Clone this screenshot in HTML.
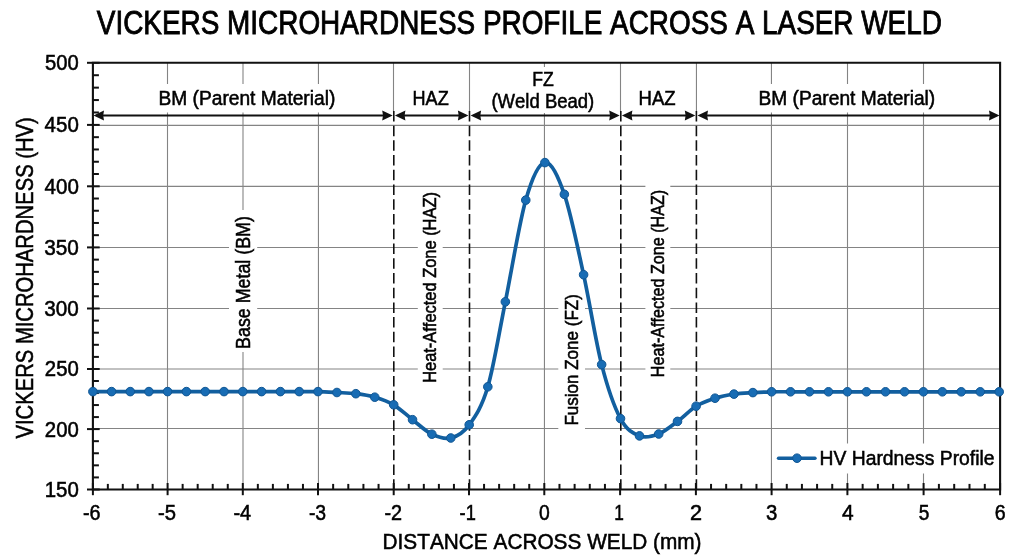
<!DOCTYPE html>
<html lang="en"><head><meta charset="utf-8"><title>Vickers Microhardness Profile Across a Laser Weld</title>
<style>html,body{margin:0;padding:0;background:#fff;}body{width:1024px;height:559px;overflow:hidden;}svg{display:block;}text{font-kerning:none;}</style>
</head><body>
<svg width="1024" height="559" viewBox="0 0 1024 559" font-family='"Liberation Sans", Arial, sans-serif' style="font-kerning:none">
<line x1="167.50" y1="62.80" x2="167.50" y2="489.50" stroke="#848484" stroke-width="1.1"/>
<line x1="243.00" y1="62.80" x2="243.00" y2="489.50" stroke="#848484" stroke-width="1.1"/>
<line x1="318.45" y1="62.80" x2="318.45" y2="489.50" stroke="#848484" stroke-width="1.1"/>
<line x1="393.50" y1="62.80" x2="393.50" y2="112.00" stroke="#848484" stroke-width="1.1"/>
<line x1="469.50" y1="62.80" x2="469.50" y2="112.00" stroke="#848484" stroke-width="1.1"/>
<line x1="544.45" y1="62.80" x2="544.45" y2="489.50" stroke="#848484" stroke-width="1.1"/>
<line x1="620.50" y1="62.80" x2="620.50" y2="112.00" stroke="#848484" stroke-width="1.1"/>
<line x1="696.45" y1="62.80" x2="696.45" y2="112.00" stroke="#848484" stroke-width="1.1"/>
<line x1="771.45" y1="62.80" x2="771.45" y2="489.50" stroke="#848484" stroke-width="1.1"/>
<line x1="847.50" y1="62.80" x2="847.50" y2="489.50" stroke="#848484" stroke-width="1.1"/>
<line x1="923.50" y1="62.80" x2="923.50" y2="489.50" stroke="#848484" stroke-width="1.1"/>
<line x1="92.90" y1="428.50" x2="1000.10" y2="428.50" stroke="#848484" stroke-width="1.1"/>
<line x1="92.90" y1="369.00" x2="1000.10" y2="369.00" stroke="#848484" stroke-width="1.1"/>
<line x1="92.90" y1="308.45" x2="1000.10" y2="308.45" stroke="#848484" stroke-width="1.1"/>
<line x1="92.90" y1="247.50" x2="1000.10" y2="247.50" stroke="#848484" stroke-width="1.1"/>
<line x1="92.90" y1="186.40" x2="1000.10" y2="186.40" stroke="#848484" stroke-width="1.1"/>
<line x1="92.90" y1="125.40" x2="1000.10" y2="125.40" stroke="#848484" stroke-width="1.1"/>
<rect x="155.00" y="84.00" width="184.00" height="28.50" fill="#fff"/>
<rect x="409.00" y="84.00" width="44.00" height="28.50" fill="#fff"/>
<rect x="488.00" y="67.00" width="110.00" height="46.00" fill="#fff"/>
<rect x="635.00" y="84.00" width="45.00" height="28.50" fill="#fff"/>
<rect x="755.00" y="84.00" width="184.00" height="28.50" fill="#fff"/>
<rect x="229.00" y="210.00" width="28.20" height="142.00" fill="#fff"/>
<rect x="417.80" y="187.00" width="24.90" height="200.00" fill="#fff"/>
<rect x="558.30" y="289.00" width="26.70" height="141.50" fill="#fff"/>
<rect x="645.40" y="185.00" width="24.90" height="196.50" fill="#fff"/>
<rect x="774.00" y="443.50" width="224.00" height="30.00" fill="#fff"/>
<line x1="393.80" y1="110.9" x2="393.80" y2="489.50" stroke="#111" stroke-width="1.6" stroke-dasharray="10.5 4.23"/>
<line x1="469.50" y1="110.9" x2="469.50" y2="489.50" stroke="#111" stroke-width="1.6" stroke-dasharray="10.5 4.23"/>
<line x1="620.80" y1="110.9" x2="620.80" y2="489.50" stroke="#111" stroke-width="1.6" stroke-dasharray="10.5 4.23"/>
<line x1="696.40" y1="110.9" x2="696.40" y2="489.50" stroke="#111" stroke-width="1.6" stroke-dasharray="10.5 4.23"/>
<line x1="96.50" y1="115.5" x2="389.70" y2="115.5" stroke="#111" stroke-width="1.9"/>
<path d="M93.50,115.5 L104.00,110.5 L103.20,115.5 L104.00,120.5 Z" fill="#111"/>
<path d="M392.70,115.5 L382.20,110.5 L383.00,115.5 L382.20,120.5 Z" fill="#111"/>
<line x1="397.90" y1="115.5" x2="465.40" y2="115.5" stroke="#111" stroke-width="1.9"/>
<path d="M394.90,115.5 L405.40,110.5 L404.60,115.5 L405.40,120.5 Z" fill="#111"/>
<path d="M468.40,115.5 L457.90,110.5 L458.70,115.5 L457.90,120.5 Z" fill="#111"/>
<line x1="473.60" y1="115.5" x2="616.70" y2="115.5" stroke="#111" stroke-width="1.9"/>
<path d="M470.60,115.5 L481.10,110.5 L480.30,115.5 L481.10,120.5 Z" fill="#111"/>
<path d="M619.70,115.5 L609.20,110.5 L610.00,115.5 L609.20,120.5 Z" fill="#111"/>
<line x1="624.90" y1="115.5" x2="692.30" y2="115.5" stroke="#111" stroke-width="1.9"/>
<path d="M621.90,115.5 L632.40,110.5 L631.60,115.5 L632.40,120.5 Z" fill="#111"/>
<path d="M695.30,115.5 L684.80,110.5 L685.60,115.5 L684.80,120.5 Z" fill="#111"/>
<line x1="700.50" y1="115.5" x2="996.50" y2="115.5" stroke="#111" stroke-width="1.9"/>
<path d="M697.50,115.5 L708.00,110.5 L707.20,115.5 L708.00,120.5 Z" fill="#111"/>
<path d="M999.50,115.5 L989.00,110.5 L989.80,115.5 L989.00,120.5 Z" fill="#111"/>
<path d="M92.90,489.50 L92.90,62.80 L1000.10,62.80 L1000.10,489.50 Z" fill="none" stroke="#111" stroke-width="2.1" stroke-linejoin="miter"/>
<line x1="87" y1="489.50" x2="99.70" y2="489.50" stroke="#111" stroke-width="2"/>
<line x1="92.90" y1="477.42" x2="98.90" y2="477.42" stroke="#111" stroke-width="2"/>
<line x1="92.90" y1="465.34" x2="98.90" y2="465.34" stroke="#111" stroke-width="2"/>
<line x1="92.90" y1="453.26" x2="98.90" y2="453.26" stroke="#111" stroke-width="2"/>
<line x1="92.90" y1="441.18" x2="98.90" y2="441.18" stroke="#111" stroke-width="2"/>
<line x1="87" y1="429.10" x2="99.70" y2="429.10" stroke="#111" stroke-width="2"/>
<line x1="92.90" y1="417.08" x2="98.90" y2="417.08" stroke="#111" stroke-width="2"/>
<line x1="92.90" y1="405.06" x2="98.90" y2="405.06" stroke="#111" stroke-width="2"/>
<line x1="92.90" y1="393.04" x2="98.90" y2="393.04" stroke="#111" stroke-width="2"/>
<line x1="92.90" y1="381.02" x2="98.90" y2="381.02" stroke="#111" stroke-width="2"/>
<line x1="87" y1="369.00" x2="99.70" y2="369.00" stroke="#111" stroke-width="2"/>
<line x1="92.90" y1="356.90" x2="98.90" y2="356.90" stroke="#111" stroke-width="2"/>
<line x1="92.90" y1="344.80" x2="98.90" y2="344.80" stroke="#111" stroke-width="2"/>
<line x1="92.90" y1="332.70" x2="98.90" y2="332.70" stroke="#111" stroke-width="2"/>
<line x1="92.90" y1="320.60" x2="98.90" y2="320.60" stroke="#111" stroke-width="2"/>
<line x1="87" y1="308.50" x2="99.70" y2="308.50" stroke="#111" stroke-width="2"/>
<line x1="92.90" y1="296.28" x2="98.90" y2="296.28" stroke="#111" stroke-width="2"/>
<line x1="92.90" y1="284.06" x2="98.90" y2="284.06" stroke="#111" stroke-width="2"/>
<line x1="92.90" y1="271.84" x2="98.90" y2="271.84" stroke="#111" stroke-width="2"/>
<line x1="92.90" y1="259.62" x2="98.90" y2="259.62" stroke="#111" stroke-width="2"/>
<line x1="87" y1="247.40" x2="99.70" y2="247.40" stroke="#111" stroke-width="2"/>
<line x1="92.90" y1="235.18" x2="98.90" y2="235.18" stroke="#111" stroke-width="2"/>
<line x1="92.90" y1="222.96" x2="98.90" y2="222.96" stroke="#111" stroke-width="2"/>
<line x1="92.90" y1="210.74" x2="98.90" y2="210.74" stroke="#111" stroke-width="2"/>
<line x1="92.90" y1="198.52" x2="98.90" y2="198.52" stroke="#111" stroke-width="2"/>
<line x1="87" y1="186.30" x2="99.70" y2="186.30" stroke="#111" stroke-width="2"/>
<line x1="92.90" y1="174.02" x2="98.90" y2="174.02" stroke="#111" stroke-width="2"/>
<line x1="92.90" y1="161.74" x2="98.90" y2="161.74" stroke="#111" stroke-width="2"/>
<line x1="92.90" y1="149.46" x2="98.90" y2="149.46" stroke="#111" stroke-width="2"/>
<line x1="92.90" y1="137.18" x2="98.90" y2="137.18" stroke="#111" stroke-width="2"/>
<line x1="87" y1="124.90" x2="99.70" y2="124.90" stroke="#111" stroke-width="2"/>
<line x1="92.90" y1="112.48" x2="98.90" y2="112.48" stroke="#111" stroke-width="2"/>
<line x1="92.90" y1="100.06" x2="98.90" y2="100.06" stroke="#111" stroke-width="2"/>
<line x1="92.90" y1="87.64" x2="98.90" y2="87.64" stroke="#111" stroke-width="2"/>
<line x1="92.90" y1="75.22" x2="98.90" y2="75.22" stroke="#111" stroke-width="2"/>
<line x1="87" y1="62.80" x2="99.70" y2="62.80" stroke="#111" stroke-width="2"/>
<line x1="92.90" y1="483.00" x2="92.90" y2="495.2" stroke="#111" stroke-width="2"/>
<line x1="107.84" y1="483.90" x2="107.84" y2="489.50" stroke="#111" stroke-width="2"/>
<line x1="122.78" y1="483.90" x2="122.78" y2="489.50" stroke="#111" stroke-width="2"/>
<line x1="137.72" y1="483.90" x2="137.72" y2="489.50" stroke="#111" stroke-width="2"/>
<line x1="152.66" y1="483.90" x2="152.66" y2="489.50" stroke="#111" stroke-width="2"/>
<line x1="167.60" y1="483.00" x2="167.60" y2="495.2" stroke="#111" stroke-width="2"/>
<line x1="182.64" y1="483.90" x2="182.64" y2="489.50" stroke="#111" stroke-width="2"/>
<line x1="197.68" y1="483.90" x2="197.68" y2="489.50" stroke="#111" stroke-width="2"/>
<line x1="212.72" y1="483.90" x2="212.72" y2="489.50" stroke="#111" stroke-width="2"/>
<line x1="227.76" y1="483.90" x2="227.76" y2="489.50" stroke="#111" stroke-width="2"/>
<line x1="242.80" y1="483.00" x2="242.80" y2="495.2" stroke="#111" stroke-width="2"/>
<line x1="257.84" y1="483.90" x2="257.84" y2="489.50" stroke="#111" stroke-width="2"/>
<line x1="272.88" y1="483.90" x2="272.88" y2="489.50" stroke="#111" stroke-width="2"/>
<line x1="287.92" y1="483.90" x2="287.92" y2="489.50" stroke="#111" stroke-width="2"/>
<line x1="302.96" y1="483.90" x2="302.96" y2="489.50" stroke="#111" stroke-width="2"/>
<line x1="318.00" y1="483.00" x2="318.00" y2="495.2" stroke="#111" stroke-width="2"/>
<line x1="333.14" y1="483.90" x2="333.14" y2="489.50" stroke="#111" stroke-width="2"/>
<line x1="348.28" y1="483.90" x2="348.28" y2="489.50" stroke="#111" stroke-width="2"/>
<line x1="363.42" y1="483.90" x2="363.42" y2="489.50" stroke="#111" stroke-width="2"/>
<line x1="378.56" y1="483.90" x2="378.56" y2="489.50" stroke="#111" stroke-width="2"/>
<line x1="393.70" y1="483.00" x2="393.70" y2="495.2" stroke="#111" stroke-width="2"/>
<line x1="408.76" y1="483.90" x2="408.76" y2="489.50" stroke="#111" stroke-width="2"/>
<line x1="423.82" y1="483.90" x2="423.82" y2="489.50" stroke="#111" stroke-width="2"/>
<line x1="438.88" y1="483.90" x2="438.88" y2="489.50" stroke="#111" stroke-width="2"/>
<line x1="453.94" y1="483.90" x2="453.94" y2="489.50" stroke="#111" stroke-width="2"/>
<line x1="469.00" y1="483.00" x2="469.00" y2="495.2" stroke="#111" stroke-width="2"/>
<line x1="484.06" y1="483.90" x2="484.06" y2="489.50" stroke="#111" stroke-width="2"/>
<line x1="499.12" y1="483.90" x2="499.12" y2="489.50" stroke="#111" stroke-width="2"/>
<line x1="514.18" y1="483.90" x2="514.18" y2="489.50" stroke="#111" stroke-width="2"/>
<line x1="529.24" y1="483.90" x2="529.24" y2="489.50" stroke="#111" stroke-width="2"/>
<line x1="544.30" y1="483.00" x2="544.30" y2="495.2" stroke="#111" stroke-width="2"/>
<line x1="559.46" y1="483.90" x2="559.46" y2="489.50" stroke="#111" stroke-width="2"/>
<line x1="574.62" y1="483.90" x2="574.62" y2="489.50" stroke="#111" stroke-width="2"/>
<line x1="589.78" y1="483.90" x2="589.78" y2="489.50" stroke="#111" stroke-width="2"/>
<line x1="604.94" y1="483.90" x2="604.94" y2="489.50" stroke="#111" stroke-width="2"/>
<line x1="620.10" y1="483.00" x2="620.10" y2="495.2" stroke="#111" stroke-width="2"/>
<line x1="635.26" y1="483.90" x2="635.26" y2="489.50" stroke="#111" stroke-width="2"/>
<line x1="650.42" y1="483.90" x2="650.42" y2="489.50" stroke="#111" stroke-width="2"/>
<line x1="665.58" y1="483.90" x2="665.58" y2="489.50" stroke="#111" stroke-width="2"/>
<line x1="680.74" y1="483.90" x2="680.74" y2="489.50" stroke="#111" stroke-width="2"/>
<line x1="695.90" y1="483.00" x2="695.90" y2="495.2" stroke="#111" stroke-width="2"/>
<line x1="711.04" y1="483.90" x2="711.04" y2="489.50" stroke="#111" stroke-width="2"/>
<line x1="726.18" y1="483.90" x2="726.18" y2="489.50" stroke="#111" stroke-width="2"/>
<line x1="741.32" y1="483.90" x2="741.32" y2="489.50" stroke="#111" stroke-width="2"/>
<line x1="756.46" y1="483.90" x2="756.46" y2="489.50" stroke="#111" stroke-width="2"/>
<line x1="771.60" y1="483.00" x2="771.60" y2="495.2" stroke="#111" stroke-width="2"/>
<line x1="786.76" y1="483.90" x2="786.76" y2="489.50" stroke="#111" stroke-width="2"/>
<line x1="801.92" y1="483.90" x2="801.92" y2="489.50" stroke="#111" stroke-width="2"/>
<line x1="817.08" y1="483.90" x2="817.08" y2="489.50" stroke="#111" stroke-width="2"/>
<line x1="832.24" y1="483.90" x2="832.24" y2="489.50" stroke="#111" stroke-width="2"/>
<line x1="847.40" y1="483.00" x2="847.40" y2="495.2" stroke="#111" stroke-width="2"/>
<line x1="862.64" y1="483.90" x2="862.64" y2="489.50" stroke="#111" stroke-width="2"/>
<line x1="877.88" y1="483.90" x2="877.88" y2="489.50" stroke="#111" stroke-width="2"/>
<line x1="893.12" y1="483.90" x2="893.12" y2="489.50" stroke="#111" stroke-width="2"/>
<line x1="908.36" y1="483.90" x2="908.36" y2="489.50" stroke="#111" stroke-width="2"/>
<line x1="923.60" y1="483.00" x2="923.60" y2="495.2" stroke="#111" stroke-width="2"/>
<line x1="938.90" y1="483.90" x2="938.90" y2="489.50" stroke="#111" stroke-width="2"/>
<line x1="954.20" y1="483.90" x2="954.20" y2="489.50" stroke="#111" stroke-width="2"/>
<line x1="969.50" y1="483.90" x2="969.50" y2="489.50" stroke="#111" stroke-width="2"/>
<line x1="984.80" y1="483.90" x2="984.80" y2="489.50" stroke="#111" stroke-width="2"/>
<line x1="1000.10" y1="483.00" x2="1000.10" y2="495.2" stroke="#111" stroke-width="2"/>
<path d="M92.90,391.60 C96.01,391.60 105.35,391.60 111.58,391.60 C117.80,391.60 124.03,391.60 130.25,391.60 C136.47,391.60 142.70,391.60 148.93,391.60 C155.15,391.60 161.35,391.60 167.60,391.60 C173.85,391.60 180.13,391.60 186.40,391.60 C192.67,391.60 198.93,391.60 205.20,391.60 C211.47,391.60 217.73,391.60 224.00,391.60 C230.27,391.60 236.53,391.60 242.80,391.60 C249.07,391.60 255.33,391.60 261.60,391.60 C267.87,391.60 274.13,391.60 280.40,391.60 C286.67,391.60 292.93,391.60 299.20,391.60 C305.47,391.60 311.71,391.45 318.00,391.60 C324.29,391.75 330.62,392.15 336.93,392.50 C343.23,392.85 349.54,392.92 355.85,393.70 C362.16,394.48 368.47,395.35 374.77,397.20 C381.08,399.05 387.41,401.05 393.70,404.80 C399.99,408.55 406.17,414.80 412.52,419.70 C418.88,424.60 425.48,431.15 431.85,434.20 C438.23,437.25 444.55,439.57 450.78,438.00 C457.00,436.43 463.02,433.33 469.20,424.80 C475.38,416.27 481.80,407.30 487.82,386.80 C493.85,366.30 499.02,332.92 505.35,301.80 C511.67,270.68 519.18,223.30 525.77,200.10 C532.37,176.90 538.47,163.57 544.90,162.60 C551.33,161.63 557.90,175.62 564.35,194.30 C570.80,212.98 577.38,246.32 583.60,274.70 C589.82,303.08 595.50,340.62 601.65,364.60 C607.80,388.58 614.19,406.72 620.50,418.60 C626.81,430.48 633.13,433.33 639.50,435.90 C645.87,438.47 652.37,436.42 658.70,434.00 C665.03,431.58 671.27,426.03 677.50,421.40 C683.73,416.77 689.85,410.07 696.10,406.20 C702.35,402.33 708.72,400.22 715.03,398.20 C721.33,396.18 727.64,395.03 733.95,394.10 C740.26,393.17 746.60,392.98 752.88,392.60 C759.15,392.22 765.32,391.93 771.60,391.80 C777.88,391.67 784.23,391.80 790.55,391.80 C796.87,391.80 803.18,391.80 809.50,391.80 C815.82,391.80 822.13,391.80 828.45,391.80 C834.77,391.80 841.07,391.80 847.40,391.80 C853.73,391.80 860.10,391.80 866.45,391.80 C872.80,391.80 879.15,391.80 885.50,391.80 C891.85,391.80 898.23,391.80 904.55,391.80 C910.87,391.80 917.10,391.80 923.40,391.80 C929.70,391.80 936.02,391.80 942.33,391.80 C948.63,391.80 954.92,391.80 961.25,391.80 C967.58,391.80 973.95,391.80 980.27,391.80 C986.60,391.80 996.05,391.80 999.20,391.80" fill="none" stroke="#125f9f" stroke-width="3.7" stroke-linejoin="round"/>
<circle cx="92.90" cy="391.60" r="4.3" fill="#186cb4" stroke="#105693" stroke-width="1"/>
<circle cx="111.58" cy="391.60" r="4.3" fill="#186cb4" stroke="#105693" stroke-width="1"/>
<circle cx="130.25" cy="391.60" r="4.3" fill="#186cb4" stroke="#105693" stroke-width="1"/>
<circle cx="148.93" cy="391.60" r="4.3" fill="#186cb4" stroke="#105693" stroke-width="1"/>
<circle cx="167.60" cy="391.60" r="4.3" fill="#186cb4" stroke="#105693" stroke-width="1"/>
<circle cx="186.40" cy="391.60" r="4.3" fill="#186cb4" stroke="#105693" stroke-width="1"/>
<circle cx="205.20" cy="391.60" r="4.3" fill="#186cb4" stroke="#105693" stroke-width="1"/>
<circle cx="224.00" cy="391.60" r="4.3" fill="#186cb4" stroke="#105693" stroke-width="1"/>
<circle cx="242.80" cy="391.60" r="4.3" fill="#186cb4" stroke="#105693" stroke-width="1"/>
<circle cx="261.60" cy="391.60" r="4.3" fill="#186cb4" stroke="#105693" stroke-width="1"/>
<circle cx="280.40" cy="391.60" r="4.3" fill="#186cb4" stroke="#105693" stroke-width="1"/>
<circle cx="299.20" cy="391.60" r="4.3" fill="#186cb4" stroke="#105693" stroke-width="1"/>
<circle cx="318.00" cy="391.60" r="4.3" fill="#186cb4" stroke="#105693" stroke-width="1"/>
<circle cx="336.93" cy="392.50" r="4.3" fill="#186cb4" stroke="#105693" stroke-width="1"/>
<circle cx="355.85" cy="393.70" r="4.3" fill="#186cb4" stroke="#105693" stroke-width="1"/>
<circle cx="374.77" cy="397.20" r="4.3" fill="#186cb4" stroke="#105693" stroke-width="1"/>
<circle cx="393.70" cy="404.80" r="4.3" fill="#186cb4" stroke="#105693" stroke-width="1"/>
<circle cx="412.52" cy="419.70" r="4.3" fill="#186cb4" stroke="#105693" stroke-width="1"/>
<circle cx="431.85" cy="434.20" r="4.3" fill="#186cb4" stroke="#105693" stroke-width="1"/>
<circle cx="450.78" cy="438.00" r="4.3" fill="#186cb4" stroke="#105693" stroke-width="1"/>
<circle cx="469.20" cy="424.80" r="4.3" fill="#186cb4" stroke="#105693" stroke-width="1"/>
<circle cx="487.82" cy="386.80" r="4.3" fill="#186cb4" stroke="#105693" stroke-width="1"/>
<circle cx="505.35" cy="301.80" r="4.3" fill="#186cb4" stroke="#105693" stroke-width="1"/>
<circle cx="525.77" cy="200.10" r="4.3" fill="#186cb4" stroke="#105693" stroke-width="1"/>
<circle cx="544.90" cy="162.60" r="4.3" fill="#186cb4" stroke="#105693" stroke-width="1"/>
<circle cx="564.35" cy="194.30" r="4.3" fill="#186cb4" stroke="#105693" stroke-width="1"/>
<circle cx="583.60" cy="274.70" r="4.3" fill="#186cb4" stroke="#105693" stroke-width="1"/>
<circle cx="601.65" cy="364.60" r="4.3" fill="#186cb4" stroke="#105693" stroke-width="1"/>
<circle cx="620.50" cy="418.60" r="4.3" fill="#186cb4" stroke="#105693" stroke-width="1"/>
<circle cx="639.50" cy="435.90" r="4.3" fill="#186cb4" stroke="#105693" stroke-width="1"/>
<circle cx="658.70" cy="434.00" r="4.3" fill="#186cb4" stroke="#105693" stroke-width="1"/>
<circle cx="677.50" cy="421.40" r="4.3" fill="#186cb4" stroke="#105693" stroke-width="1"/>
<circle cx="696.10" cy="406.20" r="4.3" fill="#186cb4" stroke="#105693" stroke-width="1"/>
<circle cx="715.03" cy="398.20" r="4.3" fill="#186cb4" stroke="#105693" stroke-width="1"/>
<circle cx="733.95" cy="394.10" r="4.3" fill="#186cb4" stroke="#105693" stroke-width="1"/>
<circle cx="752.88" cy="392.60" r="4.3" fill="#186cb4" stroke="#105693" stroke-width="1"/>
<circle cx="771.60" cy="391.80" r="4.3" fill="#186cb4" stroke="#105693" stroke-width="1"/>
<circle cx="790.55" cy="391.80" r="4.3" fill="#186cb4" stroke="#105693" stroke-width="1"/>
<circle cx="809.50" cy="391.80" r="4.3" fill="#186cb4" stroke="#105693" stroke-width="1"/>
<circle cx="828.45" cy="391.80" r="4.3" fill="#186cb4" stroke="#105693" stroke-width="1"/>
<circle cx="847.40" cy="391.80" r="4.3" fill="#186cb4" stroke="#105693" stroke-width="1"/>
<circle cx="866.45" cy="391.80" r="4.3" fill="#186cb4" stroke="#105693" stroke-width="1"/>
<circle cx="885.50" cy="391.80" r="4.3" fill="#186cb4" stroke="#105693" stroke-width="1"/>
<circle cx="904.55" cy="391.80" r="4.3" fill="#186cb4" stroke="#105693" stroke-width="1"/>
<circle cx="923.40" cy="391.80" r="4.3" fill="#186cb4" stroke="#105693" stroke-width="1"/>
<circle cx="942.33" cy="391.80" r="4.3" fill="#186cb4" stroke="#105693" stroke-width="1"/>
<circle cx="961.25" cy="391.80" r="4.3" fill="#186cb4" stroke="#105693" stroke-width="1"/>
<circle cx="980.27" cy="391.80" r="4.3" fill="#186cb4" stroke="#105693" stroke-width="1"/>
<circle cx="999.20" cy="391.80" r="4.3" fill="#186cb4" stroke="#105693" stroke-width="1"/>
<line x1="778.5" y1="458.2" x2="815" y2="458.2" stroke="#125f9f" stroke-width="3.4" stroke-linecap="round"/>
<circle cx="797" cy="458.2" r="4.3" fill="#186cb4" stroke="#105693" stroke-width="1"/>
<text x="819.49" y="464.93" font-size="21.00" textLength="175.09" lengthAdjust="spacingAndGlyphs" fill="#000" stroke="#000" stroke-width="0.55" >HV Hardness Profile</text>
<text x="96.83" y="34.30" font-size="33.69" textLength="845.06" lengthAdjust="spacingAndGlyphs" fill="#000" stroke="#000" stroke-width="0.9" >VICKERS MICROHARDNESS PROFILE ACROSS A LASER WELD</text>
<text x="382.57" y="548.93" font-size="22.30" textLength="318.95" lengthAdjust="spacingAndGlyphs" fill="#000" stroke="#000" stroke-width="0.55" >DISTANCE ACROSS WELD (mm)</text>
<text transform="translate(32.73,0) rotate(-90)" x="-438.51" y="0" font-size="23.20" textLength="321.29" lengthAdjust="spacingAndGlyphs" fill="#000" stroke="#000" stroke-width="0.55" >VICKERS MICROHARDNESS (HV)</text>
<text x="44.72" y="496.93" font-size="22.20" textLength="34.11" lengthAdjust="spacingAndGlyphs" fill="#000" stroke="#000" stroke-width="0.55" >150</text>
<text x="44.85" y="436.53" font-size="22.20" textLength="33.97" lengthAdjust="spacingAndGlyphs" fill="#000" stroke="#000" stroke-width="0.55" >200</text>
<text x="44.85" y="376.43" font-size="22.20" textLength="33.97" lengthAdjust="spacingAndGlyphs" fill="#000" stroke="#000" stroke-width="0.55" >250</text>
<text x="44.29" y="315.93" font-size="22.20" textLength="34.55" lengthAdjust="spacingAndGlyphs" fill="#000" stroke="#000" stroke-width="0.55" >300</text>
<text x="44.18" y="254.82" font-size="22.20" textLength="34.65" lengthAdjust="spacingAndGlyphs" fill="#000" stroke="#000" stroke-width="0.55" >350</text>
<text x="44.50" y="193.72" font-size="22.20" textLength="34.33" lengthAdjust="spacingAndGlyphs" fill="#000" stroke="#000" stroke-width="0.55" >400</text>
<text x="44.60" y="132.32" font-size="22.20" textLength="34.22" lengthAdjust="spacingAndGlyphs" fill="#000" stroke="#000" stroke-width="0.55" >450</text>
<text x="45.07" y="70.22" font-size="22.20" textLength="33.75" lengthAdjust="spacingAndGlyphs" fill="#000" stroke="#000" stroke-width="0.55" >500</text>
<text x="83.00" y="520.02" font-size="22.20" textLength="17.60" lengthAdjust="spacingAndGlyphs" fill="#000" stroke="#000" stroke-width="0.55" >-6</text>
<text x="157.98" y="520.02" font-size="22.20" textLength="18.00" lengthAdjust="spacingAndGlyphs" fill="#000" stroke="#000" stroke-width="0.55" >-5</text>
<text x="233.49" y="520.02" font-size="22.20" textLength="17.72" lengthAdjust="spacingAndGlyphs" fill="#000" stroke="#000" stroke-width="0.55" >-4</text>
<text x="308.91" y="520.02" font-size="22.20" textLength="17.27" lengthAdjust="spacingAndGlyphs" fill="#000" stroke="#000" stroke-width="0.55" >-3</text>
<text x="384.39" y="520.02" font-size="22.20" textLength="17.63" lengthAdjust="spacingAndGlyphs" fill="#000" stroke="#000" stroke-width="0.55" >-2</text>
<text x="459.56" y="520.02" font-size="22.20" textLength="16.25" lengthAdjust="spacingAndGlyphs" fill="#000" stroke="#000" stroke-width="0.55" >-1</text>
<text x="539.12" y="520.02" font-size="22.20" textLength="10.76" lengthAdjust="spacingAndGlyphs" fill="#000" stroke="#000" stroke-width="0.55" >0</text>
<text x="614.36" y="520.02" font-size="22.20" textLength="9.61" lengthAdjust="spacingAndGlyphs" fill="#000" stroke="#000" stroke-width="0.55" >1</text>
<text x="689.89" y="520.02" font-size="22.20" textLength="12.02" lengthAdjust="spacingAndGlyphs" fill="#000" stroke="#000" stroke-width="0.55" >2</text>
<text x="766.00" y="520.02" font-size="22.20" textLength="11.32" lengthAdjust="spacingAndGlyphs" fill="#000" stroke="#000" stroke-width="0.55" >3</text>
<text x="841.89" y="520.02" font-size="22.20" textLength="11.64" lengthAdjust="spacingAndGlyphs" fill="#000" stroke="#000" stroke-width="0.55" >4</text>
<text x="918.71" y="520.02" font-size="22.20" textLength="10.62" lengthAdjust="spacingAndGlyphs" fill="#000" stroke="#000" stroke-width="0.55" >5</text>
<text x="994.78" y="520.02" font-size="22.20" textLength="10.91" lengthAdjust="spacingAndGlyphs" fill="#000" stroke="#000" stroke-width="0.55" >6</text>
<text x="158.50" y="105.12" font-size="20.10" textLength="176.81" lengthAdjust="spacingAndGlyphs" fill="#000" stroke="#000" stroke-width="0.55" >BM (Parent Material)</text>
<text x="412.54" y="105.02" font-size="20.10" textLength="36.15" lengthAdjust="spacingAndGlyphs" fill="#000" stroke="#000" stroke-width="0.55" >HAZ</text>
<text x="532.13" y="86.42" font-size="20.60" textLength="21.55" lengthAdjust="spacingAndGlyphs" fill="#000" stroke="#000" stroke-width="0.55" >FZ</text>
<text x="491.43" y="107.72" font-size="20.60" textLength="102.85" lengthAdjust="spacingAndGlyphs" fill="#000" stroke="#000" stroke-width="0.55" >(Weld Bead)</text>
<text x="638.56" y="105.22" font-size="20.10" textLength="37.05" lengthAdjust="spacingAndGlyphs" fill="#000" stroke="#000" stroke-width="0.55" >HAZ</text>
<text x="758.50" y="105.02" font-size="20.10" textLength="176.71" lengthAdjust="spacingAndGlyphs" fill="#000" stroke="#000" stroke-width="0.55" >BM (Parent Material)</text>
<text transform="translate(249.92,0) rotate(-90)" x="-348.89" y="0" font-size="20.20" textLength="132.72" lengthAdjust="spacingAndGlyphs" fill="#000" stroke="#000" stroke-width="0.55" >Base Metal (BM)</text>
<text transform="translate(436.43,0) rotate(-90)" x="-382.87" y="0" font-size="19.00" textLength="190.82" lengthAdjust="spacingAndGlyphs" fill="#000" stroke="#000" stroke-width="0.55" >Heat-Affected Zone (HAZ)</text>
<text transform="translate(578.43,0) rotate(-90)" x="-425.62" y="0" font-size="19.20" textLength="131.50" lengthAdjust="spacingAndGlyphs" fill="#000" stroke="#000" stroke-width="0.55" >Fusion Zone (FZ)</text>
<text transform="translate(663.52,0) rotate(-90)" x="-377.15" y="0" font-size="19.00" textLength="187.27" lengthAdjust="spacingAndGlyphs" fill="#000" stroke="#000" stroke-width="0.55" >Heat-Affected Zone (HAZ)</text>
</svg>
</body></html>
